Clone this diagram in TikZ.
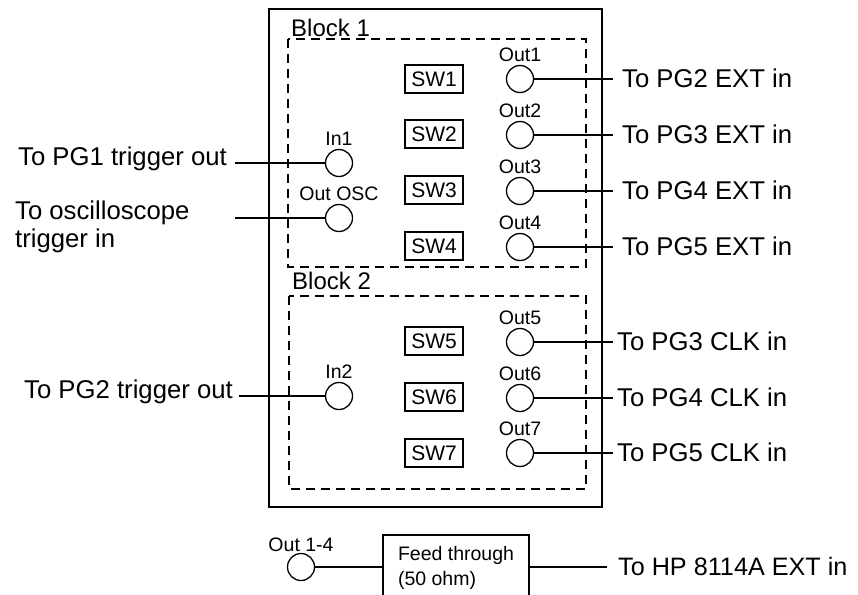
\documentclass[tikz,border=0pt]{standalone}
\usepackage{fontspec}
\setmainfont{Liberation Sans}
\begin{document}
\begin{tikzpicture}[x=1pt,y=-1pt,
 big/.style={font=\fontsize{25.7}{28.5}\selectfont},
 port/.style={circle,draw,line width=1.3pt,minimum size=27pt,inner sep=0pt},
 portlbl/.style={font=\fontsize{19.5}{22}\selectfont,inner sep=0pt,label distance=3pt},
 swbox/.style={draw,line width=1.2pt,minimum width=58pt,minimum height=28pt,inner sep=0pt,font=\fontsize{21}{24}\selectfont},
 blk/.style={draw,line width=2pt,dash pattern=on 9pt off 6pt},
 blklbl/.style={anchor=base west,inner sep=0pt,font=\fontsize{24}{28}\selectfont},
 thickw/.style={line width=1.8pt},
 thinw/.style={line width=1.1pt}]
\useasboundingbox (0,0) rectangle (858,594);

% outer box and blocks
\draw[line width=1.6pt] (269,9) rectangle (602,507);
\draw[blk] (288,39) rectangle (586,267);
\draw[blk] (289,296) rectangle (586,489);
\node[blklbl] (b1lbl) at (291,37) {Block 1};
\node[blklbl] (b2lbl) at (292,289) {Block 2};

% input ports
\node[port,label={[portlbl]above:In1}] (in1) at (339,163) {};
\node[port,label={[portlbl]above:Out OSC}] (osc) at (339,218) {};
\node[port,label={[portlbl]above:In2}] (in2) at (339,396) {};

% output ports
\node[port,label={[portlbl]above:Out1}] (out1) at (520,79) {};
\node[port,label={[portlbl]above:Out2}] (out2) at (520,135) {};
\node[port,label={[portlbl]above:Out3}] (out3) at (520,191) {};
\node[port,label={[portlbl]above:Out4}] (out4) at (520,247) {};
\node[port,label={[portlbl]above:Out5}] (out5) at (520,342) {};
\node[port,label={[portlbl]above:Out6}] (out6) at (520,398) {};
\node[port,label={[portlbl]above:Out7}] (out7) at (520,453) {};

% switches
\node[swbox] (sw1) at (434,79) {SW1};
\node[swbox] (sw2) at (434,134) {SW2};
\node[swbox,line width=2pt] (sw3) at (434,190) {SW3};
\node[swbox] (sw4) at (434,246) {SW4};
\node[swbox] (sw5) at (434,341) {SW5};
\node[swbox] (sw6) at (434,397) {SW6};
\node[swbox] (sw7) at (434,453) {SW7};

% left texts
\node[big,anchor=base east,inner ysep=0pt,inner xsep=8pt] (pg1) at (235,165) {To PG1 trigger out};
\node[big,anchor=base west,inner sep=0pt] (oscl) at (15,219)
  {\begin{tabular}[t]{@{}l@{}}To oscilloscope\\trigger in\end{tabular}};
\coordinate (oscend) at (235,218);
\node[big,anchor=base east,inner ysep=0pt,inner xsep=6pt] (pg2) at (239,398.5) {To PG2 trigger out};

\draw[thickw] (in1) -- (in1 -| pg1.east);
\draw[thickw] (osc) -- (oscend);
\draw[thickw] (in2) -- (in2 -| pg2.east);

% right texts
\node[big,anchor=base west,inner ysep=0pt,inner xsep=9pt] (r1) at (613,87) {To PG2 EXT in};
\node[big,anchor=base west,inner ysep=0pt,inner xsep=9pt] (r2) at (613,143) {To PG3 EXT in};
\node[big,anchor=base west,inner ysep=0pt,inner xsep=9pt] (r3) at (613,199) {To PG4 EXT in};
\node[big,anchor=base west,inner ysep=0pt,inner xsep=9pt] (r4) at (613,255) {To PG5 EXT in};
\node[big,anchor=base west,inner ysep=0pt,inner xsep=4pt] (r5) at (613,350) {To PG3 CLK in};
\node[big,anchor=base west,inner ysep=0pt,inner xsep=4pt] (r6) at (613,406) {To PG4 CLK in};
\node[big,anchor=base west,inner ysep=0pt,inner xsep=4pt] (r7) at (613,461) {To PG5 CLK in};

\foreach \i in {1,...,7}{
  \draw[thinw] (out\i) -- (out\i -| r\i.west);
}

% bottom chain
\node[port,label={[portlbl,label distance=1pt]above:Out 1-4}] (out14) at (301,567) {};
\node[draw,line width=1.2pt,minimum width=146pt,minimum height=65pt,inner sep=0pt,
      font=\fontsize{19.5}{25}\selectfont] (fb) at (456,567.5)
  {\begin{tabular}[c]{@{}l@{}}Feed through\\(50 ohm)\end{tabular}};
\node[anchor=base west,inner ysep=0pt,inner xsep=11pt,font=\fontsize{25.2}{28}\selectfont] (hp) at (607,575) {To HP 8114A EXT in};
\draw[thinw] (out14) -- (out14 -| fb.west);
\draw[thinw] (fb.east |- out14) -- (out14 -| hp.west);
\end{tikzpicture}
\end{document}
